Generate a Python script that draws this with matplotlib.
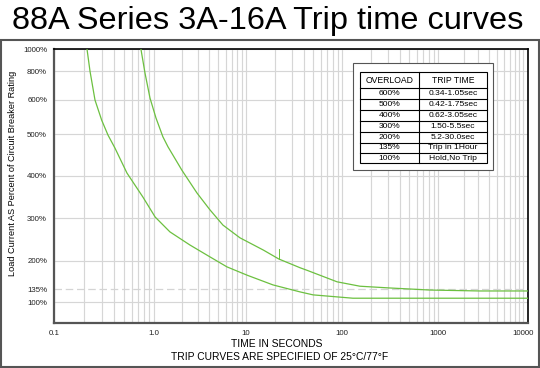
import numpy as np
import matplotlib
matplotlib.use('Agg')
import matplotlib.pyplot as plt
from matplotlib.patches import Rectangle
from matplotlib.ticker import FixedLocator, NullFormatter

plt.rcParams['font.family'] = ['Liberation Sans', 'DejaVu Sans']

# lower (minimum) trip curve: seconds, percent load
lower_t = [0.214, 0.229, 0.257, 0.300, 0.347, 0.407, 0.537, 0.776, 1.03, 1.49,
           2.46, 4.06, 6.21, 10.3, 19.1, 36.6, 50, 130, 400, 11480]
lower_pct = [1000, 800, 600, 541, 498, 467, 407, 350, 303, 268,
             237, 209, 186, 167, 145, 128, 120, 111, 111, 111]

# upper (maximum) trip curve
upper_t = [0.741, 0.813, 0.912, 1.05, 1.25, 1.42, 2.01, 2.93, 4.06, 5.62,
           8.6, 15.2, 22, 36.6, 43.5, 89, 154, 316, 826, 3110, 11480]
upper_pct = [1000, 786, 614, 548, 494, 470, 414, 360, 320, 284,
             254, 225, 204, 184, 178, 152, 142, 138, 133, 130.5, 130.5]

# small stray mark on the upper curve
blip_t = [22, 22]
blip_pct = [204, 228]

y_ticks = [100, 135, 200, 300, 400, 500, 600, 800, 1000]
y_labels = ['100%', '135%', '200%', '300%', '400%', '500%', '600%', '800%', '1000%']
x_ticks = [0.1, 1, 10, 100, 1000, 10000]
x_labels = ['0.1', '1.0', '10', '100', '1000', '10000']

table_head = ['OVERLOAD', 'TRIP TIME']
table_load = ['600%', '500%', '400%', '300%', '200%', '135%', '100%']
table_time = ['0.34-1.05sec', '0.42-1.75sec', '0.62-3.05sec', '1.50-5.5sec',
              '5.2-30.0sec', 'Trip in 1Hour', 'Hold,No Trip']

green = '#6cc040'

# the chart uses an irregular percent axis and slightly uneven decades
yv = [0, 50, 100, 135, 200, 300, 400, 500, 600, 800, 1000, 2000]
yp = [-21, 0, 21, 34, 62.6, 105, 147.3, 189, 223.3, 252.3, 274, 384]
xl = [-2, -1, 0, 1, 2, 3, 4, 5]
xp = [-46, 54, 154, 246, 342, 438, 523, 608]

def yf(v):
    return np.interp(v, yv, yp)

def yi(p):
    return np.interp(p, yp, yv)

def xf(v):
    return np.interp(np.log10(np.clip(v, 1e-9, None)), xl, xp)

def xi(p):
    return 10 ** np.interp(p, xp, xl)

fig = plt.figure(figsize=(5.4, 3.68), dpi=100)
ax = fig.add_axes([54/540, 1-323.3/368, (528-54)/540, (323.3-49.3)/368])
ax.set_xscale('function', functions=(xf, xi))
ax.set_yscale('function', functions=(yf, yi))
ax.set_xlim(0.1, 11480)
ax.set_ylim(50, 1000)

minor = [m * 10.0**d for d in range(-1, 4) for m in range(2, 10)]
ax.xaxis.set_major_locator(FixedLocator(x_ticks))
ax.xaxis.set_minor_locator(FixedLocator(minor))
ax.xaxis.set_minor_formatter(NullFormatter())
ax.set_xticklabels(x_labels)
ax.set_yticks(y_ticks)
ax.set_yticklabels(y_labels)
ax.yaxis.set_minor_locator(FixedLocator([]))
ax.tick_params(axis='both', which='both', length=0, labelsize=5.7, colors='#222222')
ax.tick_params(axis='y', pad=5)
ax.tick_params(axis='x', pad=5)

for v in x_ticks + minor:
    ax.axvline(v, color='#d6d6d6', lw=0.85, zorder=0)
for v in y_ticks:
    if v == 135:
        ax.axhline(v, color='#d4d4d4', lw=0.9, dashes=(6, 3), zorder=0)
    else:
        ax.axhline(v, color='#d6d6d6', lw=0.85, zorder=0)

ax.plot(lower_t, lower_pct, color=green, lw=0.9, zorder=3)
ax.plot(upper_t, upper_pct, color=green, lw=0.9, zorder=3)
ax.plot(blip_t, blip_pct, color=green, lw=0.7, zorder=3)

ax.spines['top'].set_color('black')
ax.spines['top'].set_linewidth(1.2)
ax.spines['right'].set_color('black')
ax.spines['right'].set_linewidth(1.2)
ax.spines['left'].set_color('#555555')
ax.spines['left'].set_linewidth(1.6)
ax.spines['bottom'].set_color('#555555')
ax.spines['bottom'].set_linewidth(1.6)

# title and labels
fig.text(268/540, 1-21/368, '88A Series 3A-16A Trip time curves',
         ha='center', va='center', fontsize=23.4)
fig.text(13/540, 1-173/368, 'Load Current AS Percent of Circuit Breaker Rating',
         rotation=90, ha='center', va='center', fontsize=6.6)
fig.text(277/540, 1-344/368, 'TIME IN SECONDS', ha='center', va='center', fontsize=7.4)
fig.text(280/540, 1-357/368, 'TRIP CURVES ARE SPECIFIED OF 25°C/77°F',
         ha='center', va='center', fontsize=7.4)

# outer frame
fig.patches.append(Rectangle((1/540, 1/368), 538/540, (367-40)/368, transform=fig.transFigure,
                             fill=False, ec='#555555', lw=1.5))

# overload table
tab = fig.add_axes([350/540, 1-173/368, 146/540, 113/368])
tab.set_xlim(350, 496)
tab.set_ylim(173, 60)
tab.axis('off')
tab.add_patch(Rectangle((353, 63), 140, 107, fc='white', ec='#555555', lw=0.8))
rows = [72, 88.3, 99, 110, 121, 131.7, 142.7, 153.3, 163.3]
left, mid, right = 360, 419, 487
tab.add_patch(Rectangle((left, rows[0]), right-left, rows[-1]-rows[0], fill=False, ec='black', lw=0.8))
for r in rows[1:-1]:
    tab.plot([left, right], [r, r], color='black', lw=0.8)
tab.plot([mid, mid], [rows[0], rows[-1]], color='black', lw=0.8)
tab.text((left+mid)/2, (rows[0]+rows[1])/2, table_head[0], ha='center', va='center', fontsize=6.2)
tab.text((mid+right)/2, (rows[0]+rows[1])/2, table_head[1], ha='center', va='center', fontsize=6.2)
for i in range(len(table_load)):
    yc = (rows[i+1] + rows[i+2]) / 2
    tab.text((left+mid)/2, yc, table_load[i], ha='center', va='center', fontsize=6.1)
    tab.text((mid+right)/2, yc, table_time[i], ha='center', va='center', fontsize=6.1)

fig.savefig('out.png', dpi=100)
